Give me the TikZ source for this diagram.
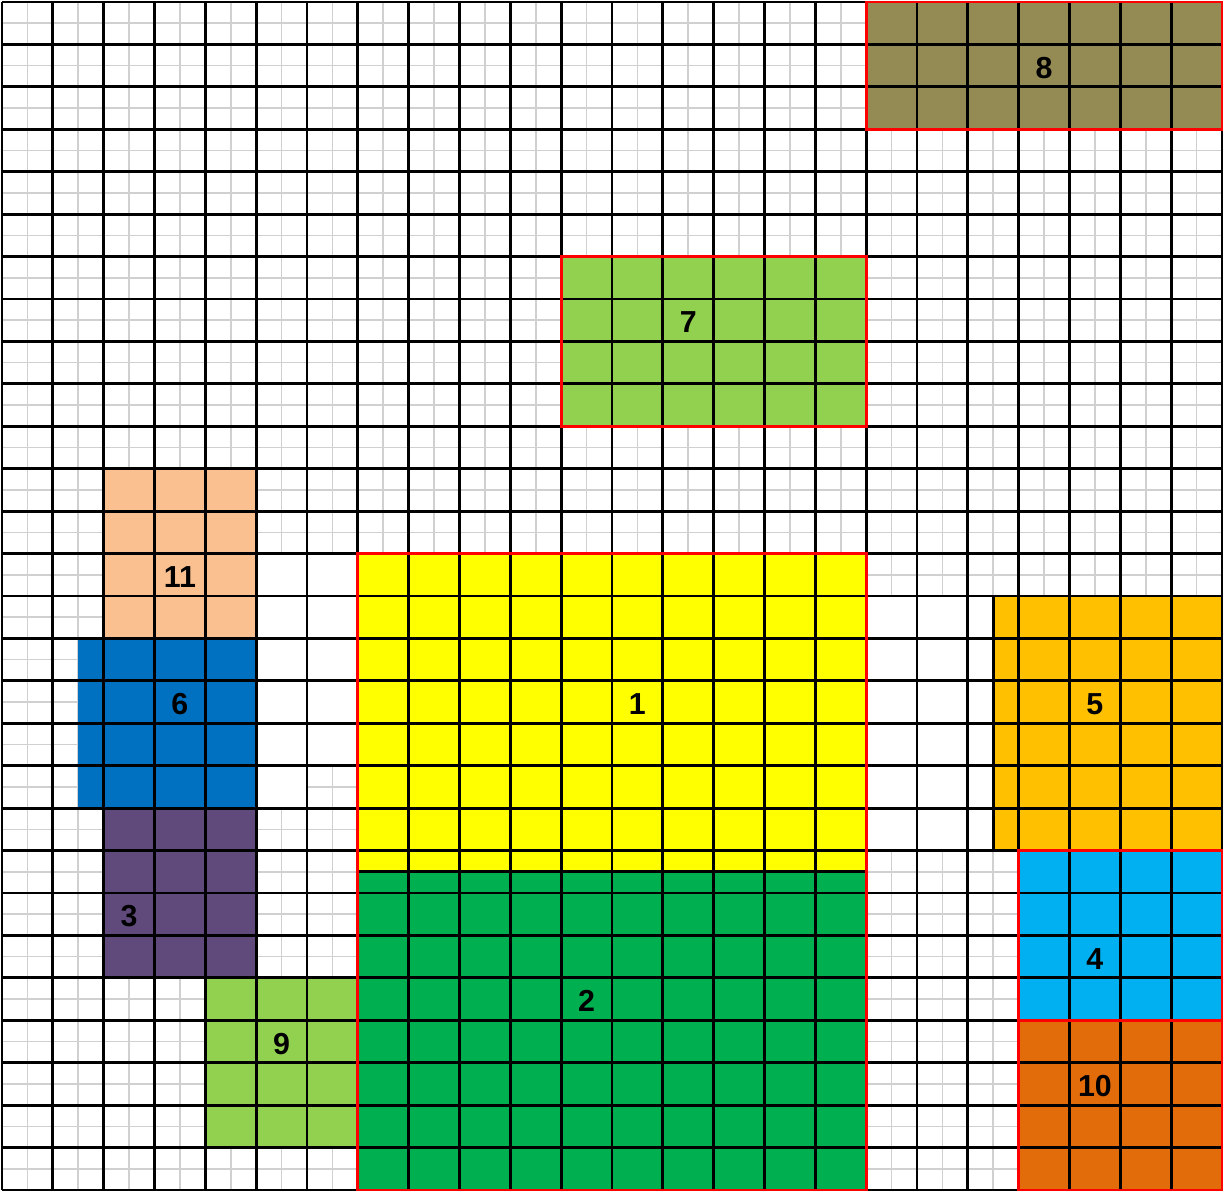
\documentclass[tikz,border=0pt]{standalone}
\usepackage{fontspec}
\setmainfont{Liberation Sans}
\usepackage{tikz}
\usetikzlibrary{positioning}

\definecolor{gridgray}{RGB}{208,208,208}
\definecolor{oliveblk}{RGB}{148,138,84}
\definecolor{limeblk}{RGB}{146,208,80}
\definecolor{peachblk}{RGB}{250,192,144}
\definecolor{blueblk}{RGB}{0,112,192}
\definecolor{purpleblk}{RGB}{96,74,123}
\definecolor{yellowblk}{RGB}{255,255,0}
\definecolor{greenblk}{RGB}{0,176,80}
\definecolor{amberblk}{RGB}{255,192,0}
\definecolor{cyanblk}{RGB}{0,176,240}
\definecolor{rustblk}{RGB}{227,108,10}

\begin{document}
\begin{tikzpicture}[
  x=1cm, y=-0.8347cm,
  subline/.style={draw=gridgray,line width=0.9pt},
  mainline/.style={draw=black,line width=1.6pt},
  redline/.style={draw=red,line width=1.6pt},
  blklabel/.style={font=\bfseries\fontsize{17}{17}\selectfont,inner sep=0pt,yshift=-1.2pt}
]
  \useasboundingbox (-0.04,-0.047) rectangle (24.04,28.047);

  % fine grid
  \foreach \i in {0,0.5,...,24} \draw[subline] (\i,0) -- (\i,28);
  \foreach \j in {0,0.5,...,28} \draw[subline] (0,\j) -- (24,\j);
  \fill[white] (5,13) rectangle (7,18);
  \fill[white] (5,18) rectangle (6,19);
  \fill[white] (17,14) rectangle (19.5,20);

  % blocks
  \fill[oliveblk]  (17,0)    rectangle (24,3);
  \fill[limeblk]   (11,6)    rectangle (17,10);
  \fill[peachblk]  (2,11)    rectangle (5,15);
  \fill[blueblk]   (1.5,15)  rectangle (5,19);
  \fill[purpleblk] (2,19)    rectangle (5,23);
  \fill[limeblk]   (4,23)    rectangle (7,27);
  \fill[yellowblk] (7,13)    rectangle (17,20.5);
  \fill[greenblk]  (7,20.5)  rectangle (17,28);
  \fill[amberblk]  (19.5,14) rectangle (24,20);
  \fill[cyanblk]   (20,20)   rectangle (24,24);
  \fill[rustblk]   (20,24)   rectangle (24,28);

  % main grid
  \foreach \i in {0,...,24} \draw[mainline] (\i,0) -- (\i,28);
  \foreach \j in {0,...,28} \draw[mainline] (0,\j) -- (24,\j);
  \draw[mainline] (19.5,14) rectangle (24,20);
  \draw[mainline] (7,20.5) -- (17,20.5);

  % red outlines
  \draw[redline] (17,0) rectangle (24,3);
  \draw[redline] (11,6) rectangle (17,10);
  \draw[redline] (7,20.5) -- (7,13) -- (17,13) -- (17,20.5);
  \draw[redline] (7,20.5) -- (7,28) -- (17,28) -- (17,20.5);
  \draw[redline] (20,20) rectangle (24,24);
  \draw[redline] (20,24) rectangle (24,28);

  \node[blklabel] (n8)  at (20.5,1.5)  {8};
  \node[blklabel] (n7)  at (13.5,7.5)  {7};
  \node[blklabel] (n11) at (3.5,13.5)  {11};
  \node[blklabel] (n6)  at (3.5,16.5)  {6};
  \node[blklabel] (n1)  at (12.5,16.5) {1};
  \node[blklabel] (n5)  at (21.5,16.5) {5};
  \node[blklabel] (n3)  at (2.5,21.5)  {3};
  \node[blklabel] (n4)  at (21.5,22.5) {4};
  \node[blklabel] (n2)  at (11.5,23.5) {2};
  \node[blklabel] (n9)  at (5.5,24.5)  {9};
  \node[blklabel] (n10) at (21.5,25.5) {10};
\end{tikzpicture}
\end{document}
